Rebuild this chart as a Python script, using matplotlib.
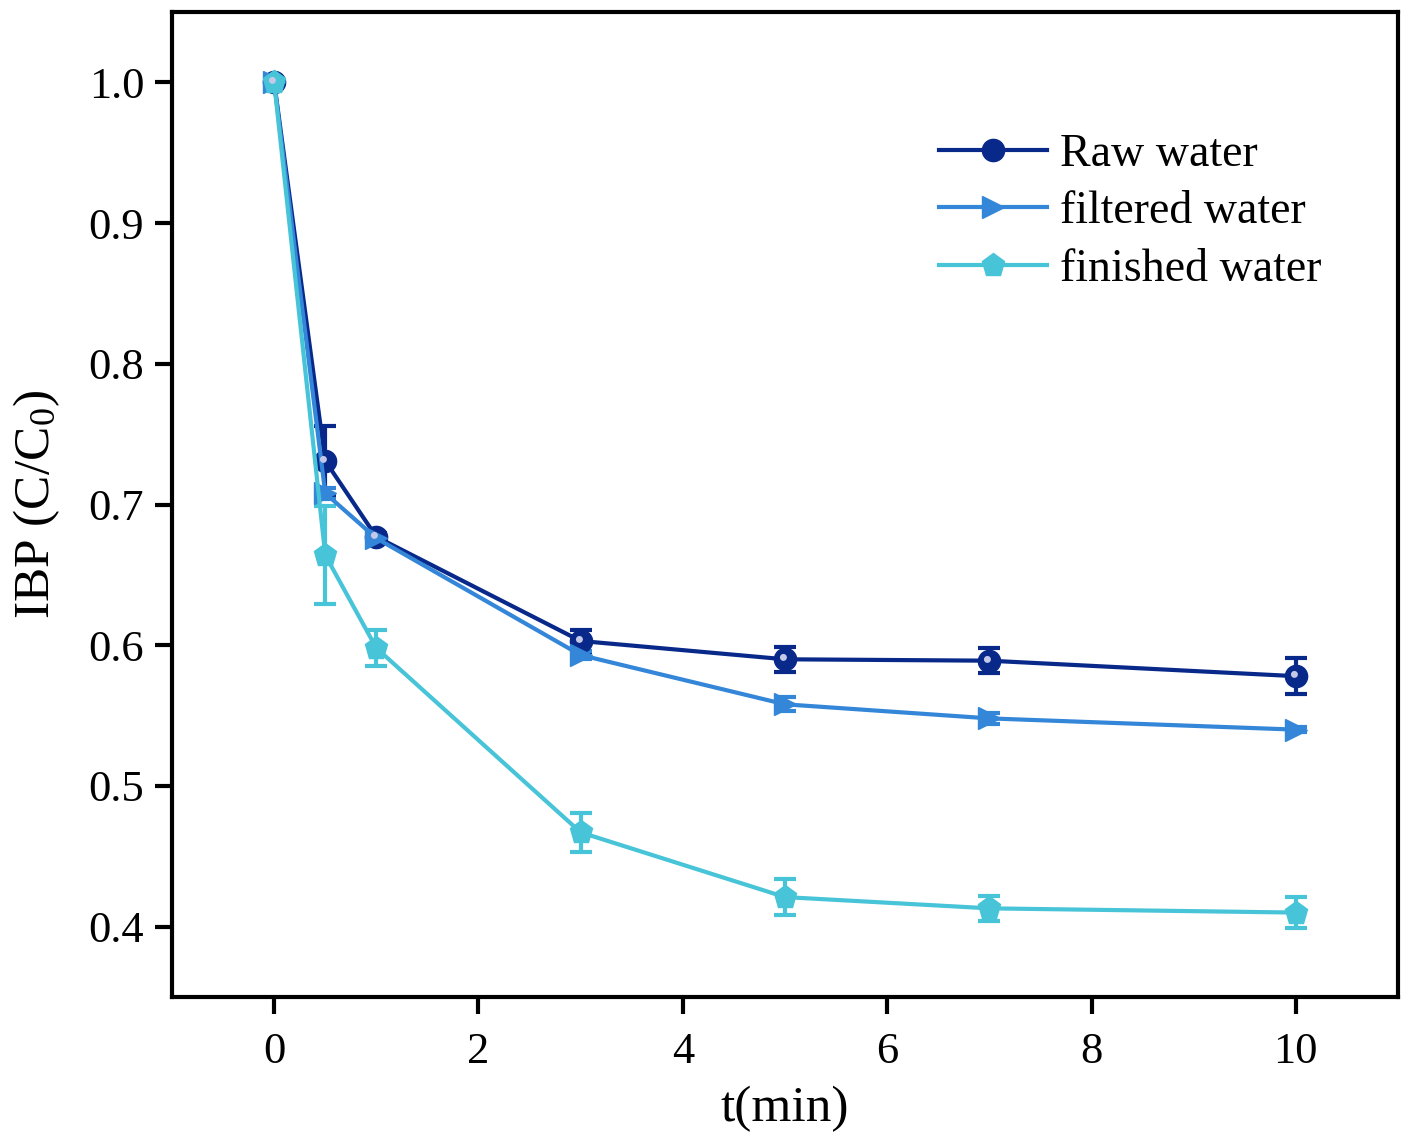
import matplotlib
matplotlib.use("Agg")
import matplotlib.pyplot as plt
from matplotlib.lines import Line2D
from matplotlib.markers import MarkerStyle
from matplotlib.transforms import Affine2D
import numpy as np

plt.rcParams['font.family'] = ['Liberation Serif', 'DejaVu Serif']
plt.rcParams['mathtext.fontset'] = 'custom'
plt.rcParams['mathtext.rm'] = 'Liberation Serif'
plt.rcParams['mathtext.it'] = 'Liberation Serif:italic'

t = [0, 0.5, 1, 3, 5, 7, 10]
raw = [1.0, 0.731, 0.677, 0.603, 0.590, 0.589, 0.578]
raw_err = [0.0, 0.025, 0.003, 0.008, 0.009, 0.009, 0.013]
filt = [1.0, 0.708, 0.676, 0.593, 0.558, 0.548, 0.540]
filt_err = [0.0, 0.004, 0.002, 0.003, 0.005, 0.004, 0.002]
fin = [1.0, 0.664, 0.598, 0.467, 0.421, 0.413, 0.410]
fin_err = [0.0, 0.035, 0.013, 0.014, 0.013, 0.009, 0.011]

labels = ['Raw water', 'filtered water', 'finished water']
colors = ['#08288a', '#3486d8', '#47c4d8']
markers = ['o', '>', 'p']
msizes = [16, 16, 17]

fig = plt.figure(figsize=(14.1, 11.42), dpi=100)
ax = fig.add_axes([172/1410, 1 - 997/1142, (1398-172)/1410, (997-12)/1142])

hl = MarkerStyle('o', transform=Affine2D().translate(-0.3, 0.3))

series = [(raw, raw_err), (filt, filt_err), (fin, fin_err)]
handles = []
for i, ((y, e), lab, c, m, ms) in enumerate(zip(series, labels, colors, markers, msizes)):
    ax.errorbar(t, y, yerr=e, color=c, marker=m, markersize=ms, lw=3,
                capsize=8, capthick=3, elinewidth=3, zorder=3)
    h = Line2D([], [], color=c, marker=m, markersize=ms, lw=3, label=lab)
    handles.append(h)
# highlight on sphere markers
ax.plot(t, raw, linestyle='none', marker=hl, markersize=5, color='#c5c9e8',
        markeredgewidth=0, zorder=4)

ax.set_xlim(-1, 11)
ax.set_ylim(0.35, 1.05)
ax.set_xticks([0, 2, 4, 6, 8, 10])
ax.set_yticks([0.4, 0.5, 0.6, 0.7, 0.8, 0.9, 1.0])
ax.set_yticklabels(['0.4', '0.5', '0.6', '0.7', '0.8', '0.9', '1.0'])
for s in ax.spines.values():
    s.set_linewidth(3)
ax.tick_params(axis='both', direction='out', length=12, width=3, labelsize=32)
ax.tick_params(axis='x', pad=13)
ax.tick_params(axis='y', pad=8)

ax.set_xlabel('t(min)', fontsize=37, labelpad=10)
ax.set_ylabel(r'IBP (C/C$_\mathrm{0}$)', fontsize=37, labelpad=19)

leg = ax.legend(handles=handles, loc='upper left', bbox_to_anchor=(0.626, 0.877),
                frameon=False, fontsize=33, handlelength=2.35, handletextpad=0.28,
                labelspacing=0.33, borderpad=0, borderaxespad=0)

fig.savefig('out.png', dpi=100)
